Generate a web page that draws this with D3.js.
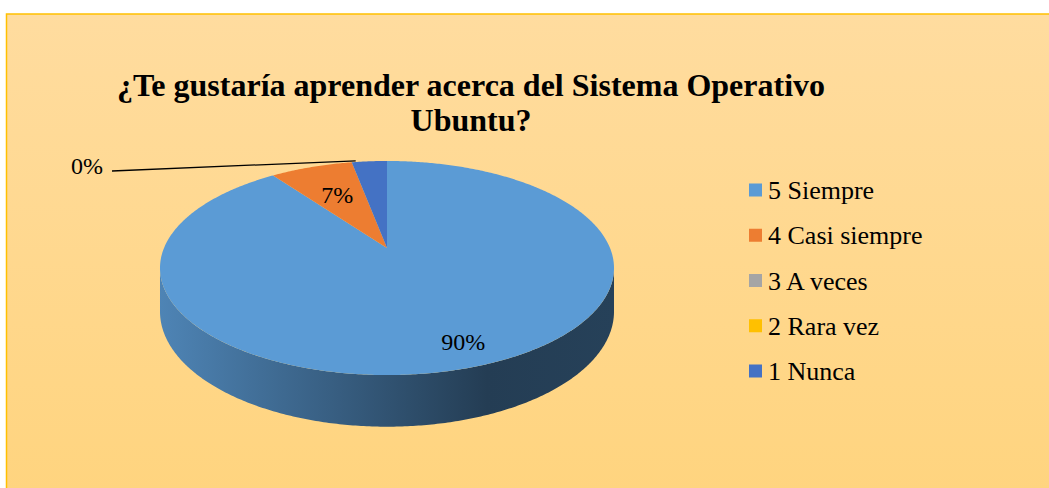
<!DOCTYPE html>
<html>
<head>
<meta charset="utf-8">
<script src="https://cdn.jsdelivr.net/npm/d3@7"></script>
<style>
  body { margin: 0; background: #fff; }
  text { font-family: "Liberation Serif", "Times New Roman", "DejaVu Serif", serif; }
</style>
</head>
<body>
<svg id="chart" width="1049" height="488"></svg>
<script>
// survey answers and their share of responses (%)
const categories = ['5 Siempre', '4 Casi siempre', '3 A veces', '2 Rara vez', '1 Nunca'];
const percentages = [90, 7, 0, 0, 3];
const colors = ['#5B9BD5', '#ED7D31', '#A5A5A5', '#FFC000', '#4472C4'];
const titleLines = ['¿Te gustaría aprender acerca del Sistema Operativo', 'Ubuntu?'];

const W = 1049, H = 488;
// 3d pie projection (disc seen from above in perspective)
const CX = 387, CY = 248, RX = 223, RY = 103.3, K = 0.187, DEPTH = 42;

function project(angle, r, drop) {
    const u = r * Math.sin(angle), v = -r * Math.cos(angle);
    const w = 1 - K * v;
    return [CX + RX * u / w, CY + (RY * v + (drop || 0)) / w];
}
function rim(a0, a1, r, drop) {
    const n = Math.max(2, Math.ceil((a1 - a0) / 0.01));
    return d3.range(n + 1).map(i => project(a0 + (a1 - a0) * i / n, r, drop));
}

const svg = d3.select('#chart');
const defs = svg.append('defs');

const bg = defs.append('linearGradient').attr('id', 'bg')
    .attr('x1', 0).attr('y1', 0).attr('x2', 0).attr('y2', 1);
bg.append('stop').attr('offset', 0).attr('stop-color', '#FFDC9F');
bg.append('stop').attr('offset', 1).attr('stop-color', '#FFD47E');

svg.append('rect')
    .attr('x', 6.5).attr('y', 14)
    .attr('width', W).attr('height', H)
    .attr('fill', 'url(#bg)')
    .attr('stroke', '#FFC000').attr('stroke-width', 1.5);

// title
svg.append('text')
    .attr('x', 471).attr('y', 96)
    .attr('text-anchor', 'middle')
    .attr('font-size', 32).attr('font-weight', 'bold')
    .selectAll('tspan').data(titleLines).join('tspan')
    .attr('x', 471).attr('dy', (d, i) => i ? 35 : 0)
    .text(d => d);

const pie = d3.pie().sort(null).value(d => d)(percentages);
const line = d3.line().curve(d3.curveLinearClosed);

// side walls (only the front half is visible)
const frontStart = Math.acos(-K), frontEnd = 2 * Math.PI - Math.acos(-K);
const halfW = RX / Math.sqrt(1 - K * K);
pie.forEach((d, i) => {
    const a0 = Math.max(d.startAngle, frontStart), a1 = Math.min(d.endAngle, frontEnd);
    if (a1 <= a0) return;
    const c = d3.color(colors[i]);
    const g = defs.append('linearGradient').attr('id', 'side' + i)
        .attr('gradientUnits', 'userSpaceOnUse')
        .attr('x1', CX - halfW).attr('x2', CX + halfW).attr('y1', 0).attr('y2', 0);
    g.append('stop').attr('offset', 0).attr('stop-color', c.darker(0.45));
    g.append('stop').attr('offset', 0.72).attr('stop-color', c.darker(2.6));
    g.append('stop').attr('offset', 1).attr('stop-color', c.darker(2.45));
    const pts = rim(a0, a1, 1, 0).concat(rim(a0, a1, 1, DEPTH).reverse());
    svg.append('path').attr('d', line(pts)).attr('fill', `url(#side${i})`);
});

// top faces
svg.append('g').selectAll('path').data(pie).join('path')
    .filter(d => d.value > 0)
    .attr('d', d => line([project(0, 0)].concat(rim(d.startAngle, d.endAngle, 1, 0))))
    .attr('fill', d => colors[d.index]);

// data labels (the small last slice carries none in the original)
const labels = svg.append('g').attr('font-size', 24).attr('fill', '#000');
pie.forEach((d, i) => {
    if (d.value === 0 || i === categories.length - 1) return;
    const mid = (d.startAngle + d.endAngle) / 2;
    const big = d.value > 50;
    const p = project(mid, big ? 0.82 : 0.62);
    labels.append('text')
        .attr('x', p[0] + (big ? 10 : 0)).attr('y', p[1] + 8)
        .attr('text-anchor', 'middle')
        .text(d3.format('.0%')(d.value / 100));
});
// zero-valued slices share one label with a leader line
const zero = pie.find(d => d.value === 0);
if (zero) {
    const tip = project(zero.startAngle, 1);
    svg.append('line')
        .attr('x1', 112).attr('y1', 171)
        .attr('x2', tip[0] + 4).attr('y2', tip[1] - 1.5)
        .attr('stroke', '#000').attr('stroke-width', 1.3);
    labels.append('text')
        .attr('x', 103).attr('y', 174)
        .attr('text-anchor', 'end')
        .text(d3.format('.0%')(zero.value / 100));
}

// legend
const ly = d3.scalePoint().domain(categories).range([190, 371]);
const legend = svg.append('g').selectAll('g').data(categories).join('g')
    .attr('transform', d => `translate(749,${ly(d)})`);
legend.append('rect')
    .attr('x', 0).attr('y', -6.5).attr('width', 13).attr('height', 13)
    .attr('fill', (d, i) => colors[i]);
legend.append('text')
    .attr('x', 19).attr('y', 9)
    .attr('font-size', 26)
    .text(d => d);
</script>
</body>
</html>
